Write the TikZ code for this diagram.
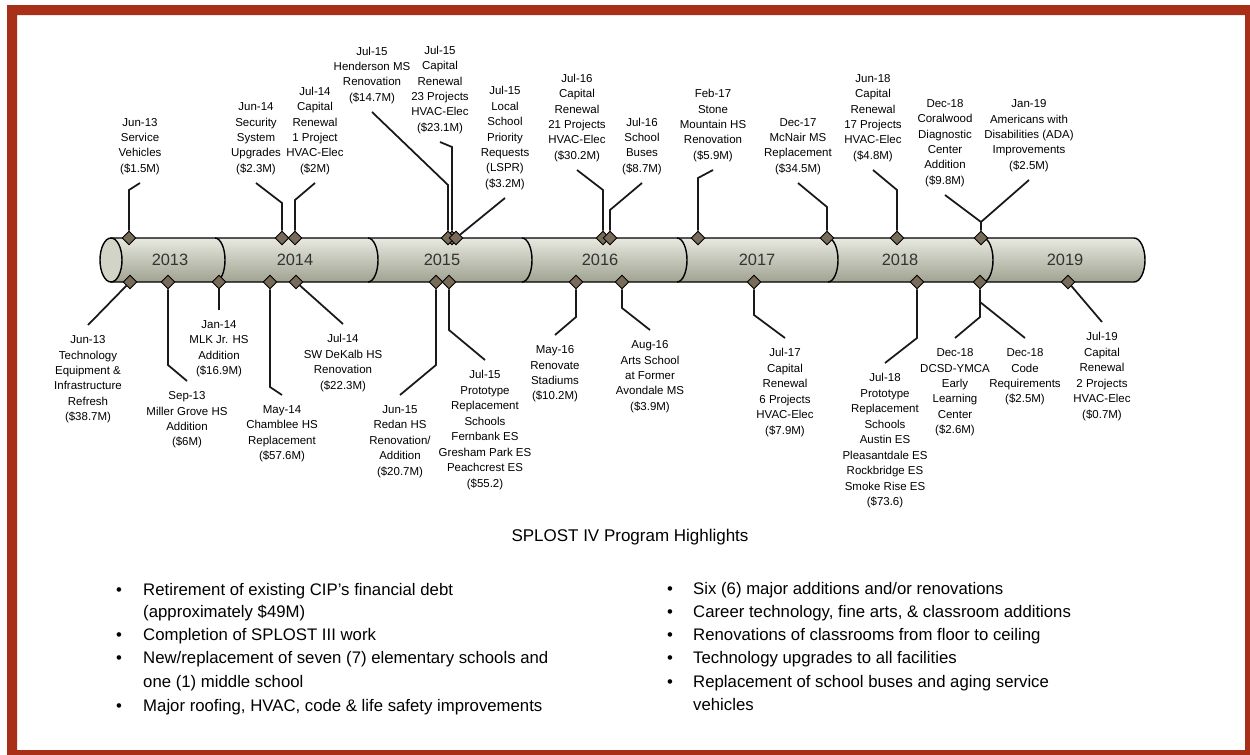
\documentclass[tikz,border=0pt]{standalone}
\usepackage{fontspec}
\setmainfont{Liberation Sans}
\usetikzlibrary{shapes.geometric}

\definecolor{framered}{RGB}{168,48,24}
\definecolor{tubetop}{RGB}{232,233,224}
\definecolor{tubebot}{RGB}{160,162,145}
\definecolor{dmdfill}{RGB}{120,108,88}

\tikzset{
  dmd/.style={diamond, draw=black, fill=dmdfill, line width=0.8pt, inner sep=0pt, minimum width=0.42cm, minimum height=0.42cm},
  lead/.style={line width=1.5pt, color=black!90},
  evt/.style={align=center, font=\fontsize{9.8}{13.2}\selectfont, inner sep=0pt, outer sep=9pt, text depth=0pt},
  yr/.style={font=\fontsize{14}{16}\selectfont, color=black!80},
  item/.style={anchor=base west, font=\fontsize{14.3}{18}\selectfont, inner sep=0pt},
  dot/.style={anchor=base, font=\fontsize{14.3}{18}\selectfont, inner sep=0pt},
}

\begin{document}
\begin{tikzpicture}[x=0.03cm, y=-0.03cm]
          \useasboundingbox (0,0) rectangle (1250,755);
          \fill[white] (0,0) rectangle (1250,755);
          \fill[framered, even odd rule] (7,5) rectangle (1250,755) (17,15) rectangle (1245,750);

          % the tube
          \draw[line width=1.2pt, top color=tubetop, bottom color=tubebot]
          (111,238) -- (1134,238) arc[start angle=-90, end angle=90, x radius=11, y radius=22] -- (111,282) -- cycle;
          \draw[line width=1.2pt, fill=tubetop!70!tubebot] (111,260) ellipse [x radius=11, y radius=22];

          \draw[line width=1.2pt] (215,238) arc[start angle=-90, end angle=90, x radius=10, y radius=22];
          \draw[line width=1.2pt] (368,238) arc[start angle=-90, end angle=90, x radius=10, y radius=22];
          \draw[line width=1.2pt] (522,238) arc[start angle=-90, end angle=90, x radius=10, y radius=22];
          \draw[line width=1.2pt] (677,238) arc[start angle=-90, end angle=90, x radius=10, y radius=22];
          \draw[line width=1.2pt] (828,238) arc[start angle=-90, end angle=90, x radius=10, y radius=22];
          \draw[line width=1.2pt] (983,238) arc[start angle=-90, end angle=90, x radius=10, y radius=22];

          \node[yr] (y13) at (170,260) {2013};
          \node[yr] (y14) at (295,260) {2014};
          \node[yr] (y15) at (442,260) {2015};
          \node[yr] (y16) at (600,260) {2016};
          \node[yr] (y17) at (757,260) {2017};
          \node[yr] (y18) at (900,260) {2018};
          \node[yr] (y19) at (1065,260) {2019};

          % events above the tube
          \node[dmd] (t1) at (129,238) {};
          \node[evt, anchor=south] (e1) at (140,183) {Jun-13\\Service\\Vehicles\\(\$1.5M)};
          \draw[lead] (t1) -- (t1 |- 0,190) -- (e1.south);

          \node[dmd] (t2) at (282,238) {};
          \node[evt, anchor=south] (e2) at (256,183) {Jun-14\\Security\\System\\Upgrades\\(\$2.3M)};
          \draw[lead] (t2) -- (t2 |- 0,203) -- (e2.south);

          \node[dmd] (t3) at (295,238) {};
          \node[evt, anchor=south] (e3) at (315,183) {Jul-14\\Capital\\Renewal\\1 Project\\HVAC-Elec\\(\$2M)};
          \draw[lead] (t3) -- (t3 |- 0,200) -- (e3.south);

          \node[dmd] (t5) at (452,238) {};
          \node[dmd] (t4) at (448,238) {};
          \node[dmd] (t6) at (456,238) {};
          \node[evt, anchor=south] (e4) at (372,112) {Jul-15\\Henderson MS\\Renovation\\(\$14.7M)};
          \node[evt, anchor=south] (e5) at (440,142) {Jul-15\\Capital\\Renewal\\23 Projects\\HVAC-Elec\\(\$23.1M)};
          \node[evt, anchor=south] (e6) at (505,198) {Jul-15\\Local\\School\\Priority\\Requests\\(LSPR)\\(\$3.2M)};
          \draw[lead] (t4) -- (t4 |- 0,185) -- (e4.south);
          \draw[lead] (t5) -- (t5 |- 0,147) -- (e5.south);
          \draw[lead] (t6) -- (e6.south);

          \node[dmd] (t7) at (603,238) {};
          \node[evt, anchor=south] (e7) at (577,170) {Jul-16\\Capital\\Renewal\\21 Projects\\HVAC-Elec\\(\$30.2M)};
          \draw[lead] (t7) -- (t7 |- 0,190) -- (e7.south);

          \node[dmd] (t8) at (610,238) {};
          \node[evt, anchor=south] (e8) at (642,183) {Jul-16\\School\\Buses\\(\$8.7M)};
          \draw[lead] (t8) -- (t8 |- 0,210) -- (e8.south);

          \node[dmd] (t9) at (698,238) {};
          \node[evt, anchor=south] (e9) at (713,170) {Feb-17\\Stone\\Mountain HS\\Renovation\\(\$5.9M)};
          \draw[lead] (t9) -- (t9 |- 0,178) -- (e9.south);

          \node[dmd] (t10) at (827,238) {};
          \node[evt, anchor=south] (e10) at (798,183) {Dec-17\\McNair MS\\Replacement\\(\$34.5M)};
          \draw[lead] (t10) -- (t10 |- 0,207) -- (e10.south);

          \node[dmd] (t11) at (897,238) {};
          \node[evt, anchor=south] (e11) at (873,170) {Jun-18\\Capital\\Renewal\\17 Projects\\HVAC-Elec\\(\$4.8M)};
          \draw[lead] (t11) -- (t11 |- 0,190) -- (e11.south);

          \node[dmd] (t12) at (981,238) {};
          \coordinate (j1) at (981,222);
          \node[evt, anchor=south] (e12) at (945,195) {Dec-18\\Coralwood\\Diagnostic\\Center\\Addition\\(\$9.8M)};
          \node[evt, anchor=south] (e13) at (1029,180) {Jan-19\\Americans with\\Disabilities (ADA)\\Improvements\\(\$2.5M)};
          \draw[lead] (t12) -- (j1) -- (e12.south);
          \draw[lead] (j1) -- (e13.south);

          % events below the tube
          \node[dmd] (b1) at (130,282) {};
          \node[evt, anchor=north] (f1) at (88,325) {Jun-13\\Technology\\Equipment \&\\Infrastructure\\Refresh\\(\$38.7M)};
          \draw[lead] (b1) -- (f1.north);

          \node[dmd] (b2) at (168,282) {};
          \node[evt, anchor=north] (f2) at (187,381) {Sep-13\\Miller Grove HS\\Addition\\(\$6M)};
          \draw[lead] (b2) -- (b2 |- 0,365) -- (f2.north);

          \node[dmd] (b3) at (219,282) {};
          \node[evt, anchor=north] (f3) at (219,310) {Jan-14\\MLK Jr. HS\\Addition\\(\$16.9M)};
          \draw[lead] (b3) -- (f3.north);

          \node[dmd] (b4) at (270,282) {};
          \node[evt, anchor=north] (f4) at (282,395) {May-14\\Chamblee HS\\Replacement\\(\$57.6M)};
          \draw[lead] (b4) -- (b4 |- 0,387) -- (f4.north);

          \node[dmd] (b5) at (296,282) {};
          \node[evt, anchor=north] (f5) at (343,324) {Jul-14\\SW DeKalb HS\\Renovation\\(\$22.3M)};
          \draw[lead] (b5) -- (f5.north);

          \node[dmd] (b6) at (436,282) {};
          \node[evt, anchor=north] (f6) at (400,395) {Jun-15\\Redan HS\\Renovation/\\Addition\\(\$20.7M)};
          \draw[lead] (b6) -- (b6 |- 0,365) -- (f6.north);

          \node[dmd] (b7) at (449,282) {};
          \node[evt, anchor=north] (f7) at (485,360) {Jul-15\\Prototype\\Replacement\\Schools\\Fernbank ES\\Gresham Park ES\\Peachcrest ES\\(\$55.2)};
          \draw[lead] (b7) -- (b7 |- 0,330) -- (f7.north);

          \node[dmd] (b8) at (576,282) {};
          \node[evt, anchor=north] (f8) at (555,335) {May-16\\Renovate\\Stadiums\\(\$10.2M)};
          \draw[lead] (b8) -- (b8 |- 0,317) -- (f8.north);

          \node[dmd] (b9) at (622,282) {};
          \node[evt, anchor=north] (f9) at (650,330) {Aug-16\\Arts School\\at Former\\Avondale MS\\(\$3.9M)};
          \draw[lead] (b9) -- (b9 |- 0,308) -- (f9.north);

          \node[dmd] (b10) at (754,282) {};
          \node[evt, anchor=north] (f10) at (785,338) {Jul-17\\Capital\\Renewal\\6 Projects\\HVAC-Elec\\(\$7.9M)};
          \draw[lead] (b10) -- (b10 |- 0,315) -- (f10.north);

          \node[dmd] (b11) at (917,282) {};
          \node[evt, anchor=north] (f11) at (885,363) {Jul-18\\Prototype\\Replacement\\Schools\\Austin ES\\Pleasantdale ES\\Rockbridge ES\\Smoke Rise ES\\(\$73.6)};
          \draw[lead] (b11) -- (b11 |- 0,338) -- (f11.north);

          \node[dmd] (b12) at (980,282) {};
          \coordinate (j2) at (980,302);
          \node[evt, anchor=north] (f12) at (955,338) {Dec-18\\DCSD-YMCA\\Early\\Learning\\Center\\(\$2.6M)};
          \node[evt, anchor=north] (f13) at (1025,338) {Dec-18\\Code\\Requirements\\(\$2.5M)};
          \draw[lead] (b12) -- (b12 |- 0,317) -- (f12.north);
          \draw[lead] (j2) -- (f13.north);

          \node[dmd] (b14) at (1068,282) {};
          \node[evt, anchor=north] (f14) at (1102,322) {Jul-19\\Capital\\Renewal\\2 Projects\\HVAC-Elec\\(\$0.7M)};
          \draw[lead] (b14) -- (f14.north);

          % highlights
          \node[font=\fontsize{14.5}{17}\selectfont] (ttl) at (630,537) {SPLOST IV Program Highlights};

          \node[dot] (p1) at (119,595) {\textbullet};
          \node[item] (h1) at (143,595) {Retirement of existing CIP's financial debt};
          \node[item] (h1b) at (143,617) {(approximately \$49M)};
          \node[dot] (p2) at (119,640) {\textbullet};
          \node[item] (h2) at (143,640) {Completion of SPLOST III work};
          \node[dot] (p3) at (119,663) {\textbullet};
          \node[item] (h3) at (143,663) {New/replacement of seven (7) elementary schools and};
          \node[item] (h3b) at (143,687) {one (1) middle school};
          \node[dot] (p4) at (119,711) {\textbullet};
          \node[item] (h4) at (143,711) {Major roofing, HVAC, code \& life safety improvements};

          \node[dot] (q1) at (670,594) {\textbullet};
          \node[item] (k1) at (693,594) {Six (6) major additions and/or renovations};
          \node[dot] (q2) at (670,617) {\textbullet};
          \node[item] (k2) at (693,617) {Career technology, fine arts, \& classroom additions};
          \node[dot] (q3) at (670,640) {\textbullet};
          \node[item] (k3) at (693,640) {Renovations of classrooms from floor to ceiling};
          \node[dot] (q4) at (670,663) {\textbullet};
          \node[item] (k4) at (693,663) {Technology upgrades to all facilities};
          \node[dot] (q5) at (670,687) {\textbullet};
          \node[item] (k5) at (693,687) {Replacement of school buses and aging service};
          \node[item] (k5b) at (693,710) {vehicles};
        \end{tikzpicture}
\end{document}
